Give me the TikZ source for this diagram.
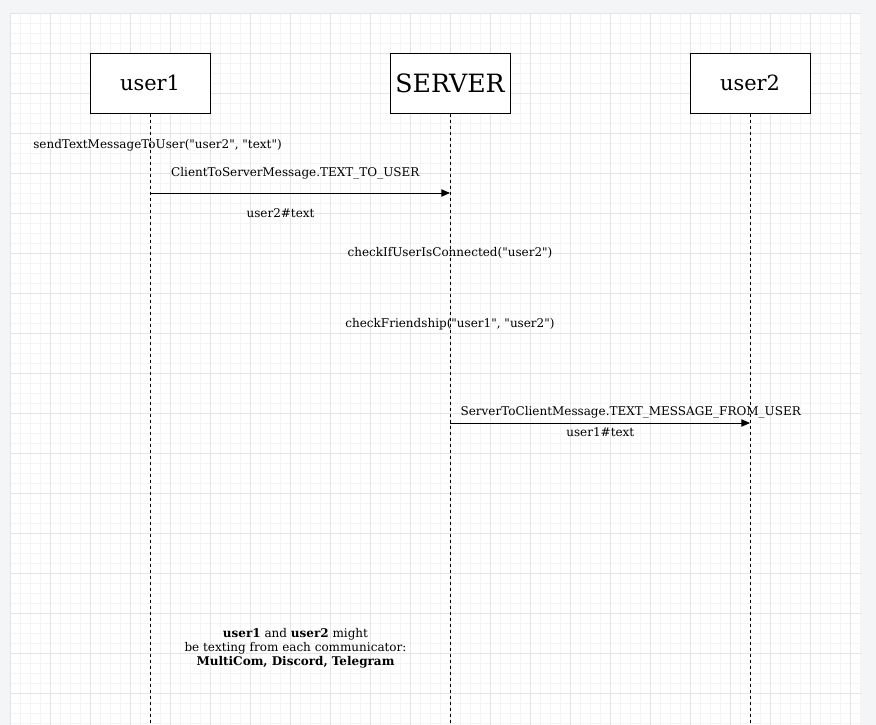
\documentclass[tikz,border=0pt]{standalone}
\usepackage{fontspec}
\setmainfont{DejaVu Serif}[Ligatures=TeXOff]
\usetikzlibrary{arrows.meta}
\definecolor{bgout}{HTML}{F4F5F7}
\definecolor{gridminor}{HTML}{F4F4F4}
\definecolor{gridmajor}{HTML}{E4E4E4}
\tikzset{
  actor/.style={draw=black, line width=0.75pt, fill=white, minimum width=90pt, minimum height=45pt, inner sep=0pt, font=\fontsize{15.7}{18}\selectfont},
  lifeline/.style={draw=black, line width=0.75pt, dash pattern=on 2.25pt off 2.25pt},
  msg/.style={draw=black, line width=0.75pt, -{Triangle[length=6.5pt,width=5.5pt]}},
  lbl/.style={inner sep=0pt, font=\fontsize{9}{10}\selectfont, anchor=center},
  note/.style={inner sep=0pt, align=center, font=\fontsize{9}{10.5}\selectfont}
}
\begin{document}
\begin{tikzpicture}[x=0.75pt,y=-0.75pt]
\useasboundingbox (0,0) rectangle (876,725);
\fill[bgout] (0,0) rectangle (876,725);
\fill[white] (10,13) rectangle (861,725);
\begin{scope}
\clip (10,13) rectangle (861,725);
\foreach \x in {10,20,...,860} \draw[gridminor, line width=0.75pt] (\x,13) -- (\x,725);
\foreach \y in {13,23,...,725} \draw[gridminor, line width=0.75pt] (10,\y) -- (861,\y);
\foreach \x in {10,50,...,860} \draw[gridmajor, line width=0.75pt] (\x,13) -- (\x,725);
\foreach \y in {13,53,...,725} \draw[gridmajor, line width=0.75pt] (10,\y) -- (861,\y);
\end{scope}
\node[actor] (u1) at (150,83) {user1};
\node[actor, font=\fontsize{18.9}{21}\selectfont] (srv) at (450,83) {SERVER};
\node[actor] (u2) at (750,83) {user2};
\coordinate (u1e) at (150,725);
\coordinate (srve) at (450,725);
\coordinate (u2e) at (750,725);
\draw[lifeline] (u1.south) -- (u1e);
\draw[lifeline] (srv.south) -- (srve);
\draw[lifeline] (u2.south) -- (u2e);
\coordinate (a1s) at (150,193);
\coordinate (a1e) at (450,193);
\coordinate (a2s) at (450,423);
\coordinate (a2e) at (750,423);
\draw[msg] (a1s) -- (a1e);
\draw[msg] (a2s) -- (a2e);
\node[lbl] (t1) at (157.5,145) {sendTextMessageToUser("user2", "text")};
\node[lbl] (t2) at (295.3,173) {ClientToServerMessage.TEXT\_TO\_USER};
\node[lbl] (t3) at (280.5,213) {user2\#text};
\node[lbl] (t4) at (450,253) {checkIfUserIsConnected("user2")};
\node[lbl] (t5) at (450,324) {checkFriendship("user1", "user2")};
\node[lbl] (t6) at (630.7,412) {ServerToClientMessage.TEXT\_MESSAGE\_FROM\_USER};
\node[lbl] (t7) at (600.3,432) {user1\#text};
\node[note] (n1) at (295.5,648) {\textbf{user1} and \textbf{user2} might\\be texting from each communicator:\\\textbf{MultiCom, Discord, Telegram}};
\end{tikzpicture}
\end{document}
